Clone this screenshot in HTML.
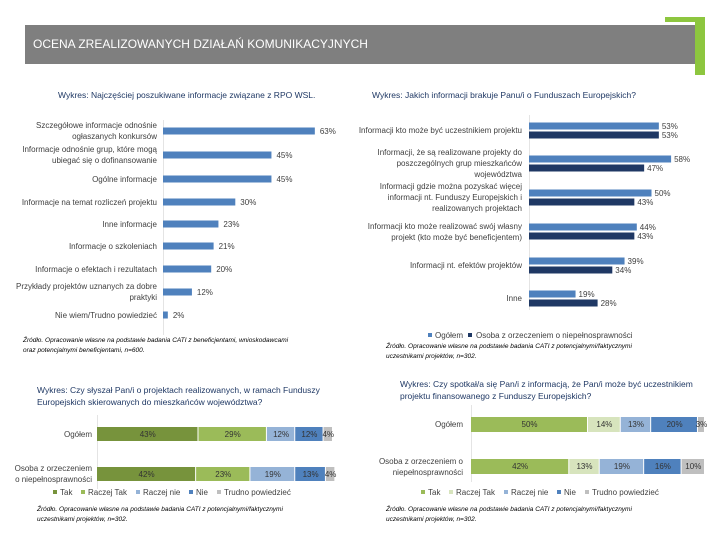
<!DOCTYPE html>
<html><head><meta charset="utf-8">
<style>
body{margin:0;width:720px;height:540px;background:#fff;position:relative;overflow:hidden;font-family:"Liberation Sans",sans-serif;color:#404040}
.t{position:absolute;white-space:nowrap;font-size:8px}
.r{text-align:right}
.src{position:absolute;font-size:6.5px;font-style:italic;line-height:10px;color:#000}
.ttl{position:absolute;font-size:8.5px;color:#1f3864;line-height:12px}
svg{position:absolute;left:0;top:0}
</style></head><body>
<div style="position:absolute;left:25px;top:25px;width:670px;height:39px;background:#7f7f7f"></div>
<div style="position:absolute;left:695px;top:17px;width:10px;height:58px;background:#8dc63f"></div>
<div style="position:absolute;left:665px;top:17px;width:40px;height:5px;background:#8dc63f"></div>
<div class="t" style="left:33px;top:37px;font-size:12px;color:#fff">OCENA ZREALIZOWANYCH DZIAŁAŃ KOMUNIKACYJNYCH</div>

<div class="ttl" style="left:58px;top:89px">Wykres: Najczęściej poszukiwane informacje związane z RPO WSL.</div>
<div class="ttl" style="left:372px;top:89px">Wykres: Jakich informacji brakuje Panu/i o Funduszach Europejskich?</div>
<div class="ttl" style="left:37px;top:384px">Wykres: Czy słyszał Pan/i o projektach realizowanych, w ramach Funduszy<br>Europejskich skierowanych do mieszkańców województwa?</div>
<div class="ttl" style="left:400px;top:378px">Wykres: Czy spotkał/a się Pan/i z informacją, że Pan/i może być uczestnikiem<br>projektu finansowanego z Funduszy Europejskich?</div>

<div class="src" style="left:23px;top:336px">Źródło. Opracowanie własne na podstawie badania CATI z beneficjentami, wnioskodawcami<br>oraz potencjalnymi beneficjentami, n=600.</div>
<div class="src" style="left:386px;top:342px">Źródło. Opracowanie własne na podstawie badania CATI z potencjalnymi/faktycznymi<br>uczestnikami projektów, n=302.</div>
<div class="src" style="left:37px;top:505px">Źródło. Opracowanie własne na podstawie badania CATI z potencjalnymi/faktycznymi<br>uczestnikami projektów, n=302.</div>
<div class="src" style="left:386px;top:505px">Źródło. Opracowanie własne na podstawie badania CATI z potencjalnymi/faktycznymi<br>uczestnikami projektów, n=302.</div>

<svg id="s" width="720" height="540"></svg>
<div id="h"></div>
<script>
// Chart 1
const c1Cats=["Szczegółowe informacje odnośnie|ogłaszanych konkursów","Informacje odnośnie grup, które mogą|ubiegać się o dofinansowanie","Ogólne informacje","Informacje na temat rozliczeń projektu","Inne informacje","Informacje o szkoleniach","Informacje o efektach i rezultatach","Przykłady projektów uznanych za dobre|praktyki","Nie wiem/Trudno powiedzieć"];
const c1Vals=[63,45,45,30,23,21,20,12,2];
// Chart 2
const c2Cats=["Informacji kto może być uczestnikiem projektu","Informacji, że są realizowane projekty do|poszczególnych grup mieszkańców|województwa","Informacji gdzie można pozyskać więcej|informacji nt. Funduszy Europejskich i|realizowanych projektach","Informacji kto może realizować swój własny|projekt (kto może być beneficjentem)","Informacji nt. efektów projektów","Inne"];
const c2Ogol=[53,58,50,44,39,19];
const c2Osob=[53,47,43,43,34,28];
// Chart 3
const c3Cats=["Ogółem","Osoba z orzeczeniem|o niepełnosprawności"];
const c3Series=["Tak","Raczej Tak","Raczej nie","Nie","Trudno powiedzieć"];
const c3Tak=[43,42],c3RT=[29,23],c3RN=[12,19],c3Nie=[12,13],c3TP=[4,4];
// Chart 4
const c4Cats=["Ogółem","Osoba z orzeczeniem o|niepełnosprawności"];
const c4Tak=[50,42],c4RT=[14,13],c4RN=[13,19],c4Nie=[20,16],c4TP=[3,10];

const S=document.getElementById('s'),H=document.getElementById('h');
function R(x,y,w,h,f,n){const r=document.createElementNS('http://www.w3.org/2000/svg','rect');r.setAttribute('x',x);r.setAttribute('y',y);r.setAttribute('width',Math.max(w,0));r.setAttribute('height',h);r.setAttribute('fill',f);


S.appendChild(r);return r;}
function T(txt,x,y,right,n,extra){const d=document.createElement('div');d.className='t'+(right?' r':'');d.innerHTML=txt.split('|').join('<br>');


const lines=txt.split('|').length;d.style.lineHeight='11px';d.style.top=(y-lines*5.5)+'px';
if(right){d.style.right=(720-x)+'px';}else d.style.left=x+'px';
if(extra)d.style.cssText+=extra;H.appendChild(d);return d;}

// chart1
const x1=163,k1=2.41,y1=[131,155,179,202,224,246,269,292,315];
R(x1,120,0.7,215,'#d9d9d9','chart1-axis');
c1Cats.forEach((c,i)=>{const w=c1Vals[i]*k1;R(x1,y1[i]-3.5,w,7,'#4f81bd','chart1-bar');T(c,157,y1[i],true,'chart1-category-label');T(c1Vals[i]+'%',x1+w+5,y1[i],false,'chart1-value-label');});

// chart2
const x2=529,k2=2.45,y2=[126,159,193,227,261,294];
R(x2,115,0.7,195,'#d9d9d9','chart2-axis');
c2Cats.forEach((c,i)=>{const a=c2Ogol[i]*k2,b=c2Osob[i]*k2;
R(x2,y2[i]-3.5,a,7,'#4f81bd','chart2-bar-ogolem');R(x2,y2[i]+5.5,b,7,'#1f3864','chart2-bar-osoba');
T(c,522,y2[i]+4.5,true,'chart2-category-label');T(c2Ogol[i]+'%',x2+a+3,y2[i],false,'chart2-value-ogolem');T(c2Osob[i]+'%',x2+b+3,y2[i]+9,false,'chart2-value-osoba');});
R(428,333,4,4,'#4f81bd','chart2-legend-swatch-ogolem');T('Ogółem',435,335,false,'chart2-legend-ogolem');
R(468,333,4,4,'#1f3864','chart2-legend-swatch-osoba');T('Osoba z orzeczeniem o niepełnosprawności',476,335,false,'chart2-legend-osoba');

// stacked
function stacked(prefix,x0,k,rows,h,cats,series,cols,legX,legY,labX){
 R(x0,rows[0]-12,0.7,rows[1]-rows[0]+h+20,'#d9d9d9',prefix+'-axis');
 cats.forEach((c,i)=>{let x=x0;series.forEach((s,j)=>{const w=s[i]*k;R(x,rows[i],w-1,h,cols[j],prefix+'-segment');
  T(s[i]+'%',x+w/2,rows[i]+h/2,false,prefix+'-segment-label','transform:translateX(-50%);color:#333');x+=w;});
  T(c,labX,rows[i]+h/2,true,prefix+'-category-label');});
 let lx=legX;c3Series.forEach((n,j)=>{R(lx,legY-2,4,4,cols[j],prefix+'-legend-swatch');const d=T(n,lx+7,legY,false,prefix+'-legend-entry');lx+=7+d.offsetWidth+9;});
}
stacked('chart3',97,2.36,[427,467],14,c3Cats,[c3Tak,c3RT,c3RN,c3Nie,c3TP],['#77933c','#9bbb59','#95b3d7','#4f81bd','#bfbfbf'],53,492,92);
stacked('chart4',471,2.34,[417,459],15,c4Cats,[c4Tak,c4RT,c4RN,c4Nie,c4TP],['#9bbb59','#d7e4bd','#95b3d7','#4f81bd','#bfbfbf'],421,492,463);
</script>
</body></html>
